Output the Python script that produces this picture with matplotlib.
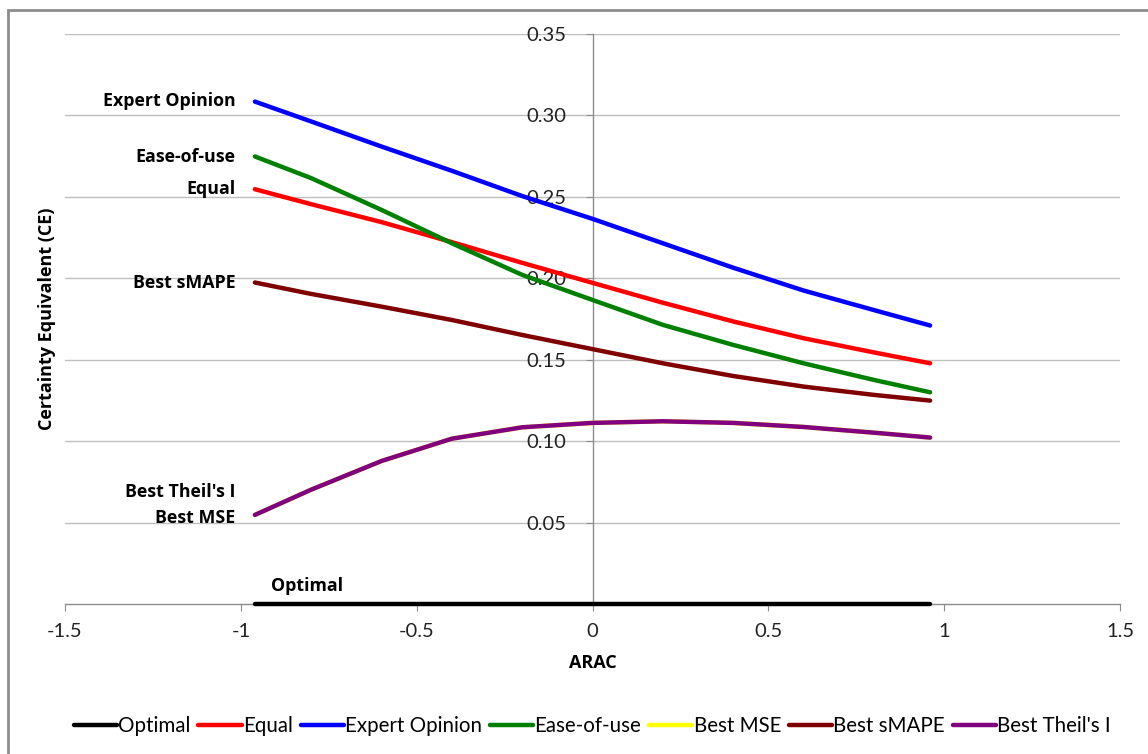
import numpy as np
import matplotlib.pyplot as plt
from matplotlib.patches import Rectangle

plt.rcParams['font.family'] = ['Lato', 'DejaVu Sans']

arac = [-0.96, -0.8, -0.6, -0.4, -0.2, 0.0, 0.2, 0.4, 0.6, 0.8, 0.96]

optimal = [0, 0, 0, 0, 0, 0, 0, 0, 0, 0, 0]
equal = [0.2547, 0.2455, 0.2345, 0.2222, 0.2095, 0.1972, 0.1850, 0.1735, 0.1632, 0.1545, 0.1478]
expert = [0.3085, 0.2963, 0.2809, 0.2660, 0.2505, 0.2365, 0.2215, 0.2065, 0.1925, 0.1805, 0.1710]
ease = [0.2748, 0.2615, 0.2420, 0.2215, 0.2021, 0.1867, 0.1714, 0.1591, 0.1478, 0.1376, 0.1300]
best_mse = [0.0547, 0.0702, 0.0878, 0.1015, 0.1085, 0.1112, 0.1122, 0.1112, 0.1087, 0.1052, 0.1022]
best_smape = [0.1974, 0.1904, 0.1826, 0.1744, 0.1652, 0.1565, 0.1478, 0.1400, 0.1335, 0.1284, 0.1249]
best_theil = [0.0547, 0.0702, 0.0878, 0.1015, 0.1085, 0.1112, 0.1122, 0.1112, 0.1087, 0.1052, 0.1022]

series = [
    ("Optimal", optimal, "black"),
    ("Equal", equal, "#ff0000"),
    ("Expert Opinion", expert, "#0000ff"),
    ("Ease-of-use", ease, "#008000"),
    ("Best MSE", best_mse, "#ffff00"),
    ("Best sMAPE", best_smape, "#800000"),
    ("Best Theil's I", best_theil, "#800080"),
]

# labels written next to the curve starts
side_labels = [
    ("Expert Opinion", 0.309),
    ("Ease-of-use", 0.2746),
    ("Equal", 0.255),
    ("Best sMAPE", 0.197),
    ("Best Theil's I", 0.0685),
    ("Best MSE", 0.053),
]

bold_font = ['Open Sans', 'DejaVu Sans']

fig = plt.figure(figsize=(11.48, 7.54), dpi=100)
fig.patches.append(Rectangle((8/1148, -0.1), 1.2, 1 - 10/754 + 0.1, transform=fig.transFigure,
                             fill=False, edgecolor="#8c8c8c", linewidth=2))
ax = fig.add_axes([65/1148, 1 - 604/754, (1120 - 65)/1148, (604 - 34)/754])

x = np.array(arac)
for name, vals, col in series:
    ax.plot(x, vals, color=col, lw=3.2, label=name, solid_capstyle='round',
            solid_joinstyle='round', zorder=3, clip_on=False)

ax.set_xlim(-1.5, 1.5)
ax.set_ylim(0, 0.35)
for s in ['top', 'right', 'left', 'bottom']:
    ax.spines[s].set_color('#8c8c8c')
ax.spines['top'].set_visible(False)
ax.spines['right'].set_visible(False)
ax.spines['left'].set_position(('data', 0))
ax.spines['left'].set_linewidth(1)
ax.spines['bottom'].set_linewidth(1)

ax.set_yticks(np.arange(0.05, 0.351, 0.05))
ax.set_yticklabels([f"{v:.2f}" for v in np.arange(0.05, 0.351, 0.05)])
ax.set_xticks([-1.5, -1, -0.5, 0, 0.5, 1, 1.5])
ax.set_xticklabels(["-1.5", "-1", "-0.5", "0", "0.5", "1", "1.5"])
ax.tick_params(axis='both', colors='#8c8c8c', labelcolor='#222222', labelsize=14.5, length=5)
ax.tick_params(axis='x', pad=9)
ax.tick_params(axis='y', pad=14)
ax.grid(axis='y', color='#bfbfbf', lw=1)
ax.set_axisbelow(True)

ax.set_xlabel("ARAC", fontsize=13, fontweight='bold', family=bold_font, labelpad=10)
fig.text(47/1148, 1 - 319/754, "Certainty Equivalent (CE)", rotation=90, fontsize=13,
         fontweight='bold', family=bold_font, ha='center', va='center')

for txt, yv in side_labels:
    ax.text(-1.016, yv, txt, ha='right', va='center', fontsize=12.8, fontweight='bold',
            family=bold_font)
ax.text(-0.915, 0.011, "Optimal", ha='left', va='center', fontsize=12.8, fontweight='bold',
        family=bold_font)

fig.legend(loc='center', bbox_to_anchor=(0.516, 1 - 726/754), ncol=7, frameon=False,
           fontsize=14.8, handlelength=2.1, handletextpad=0.05, columnspacing=0.4)

fig.savefig("out.png", dpi=100)
